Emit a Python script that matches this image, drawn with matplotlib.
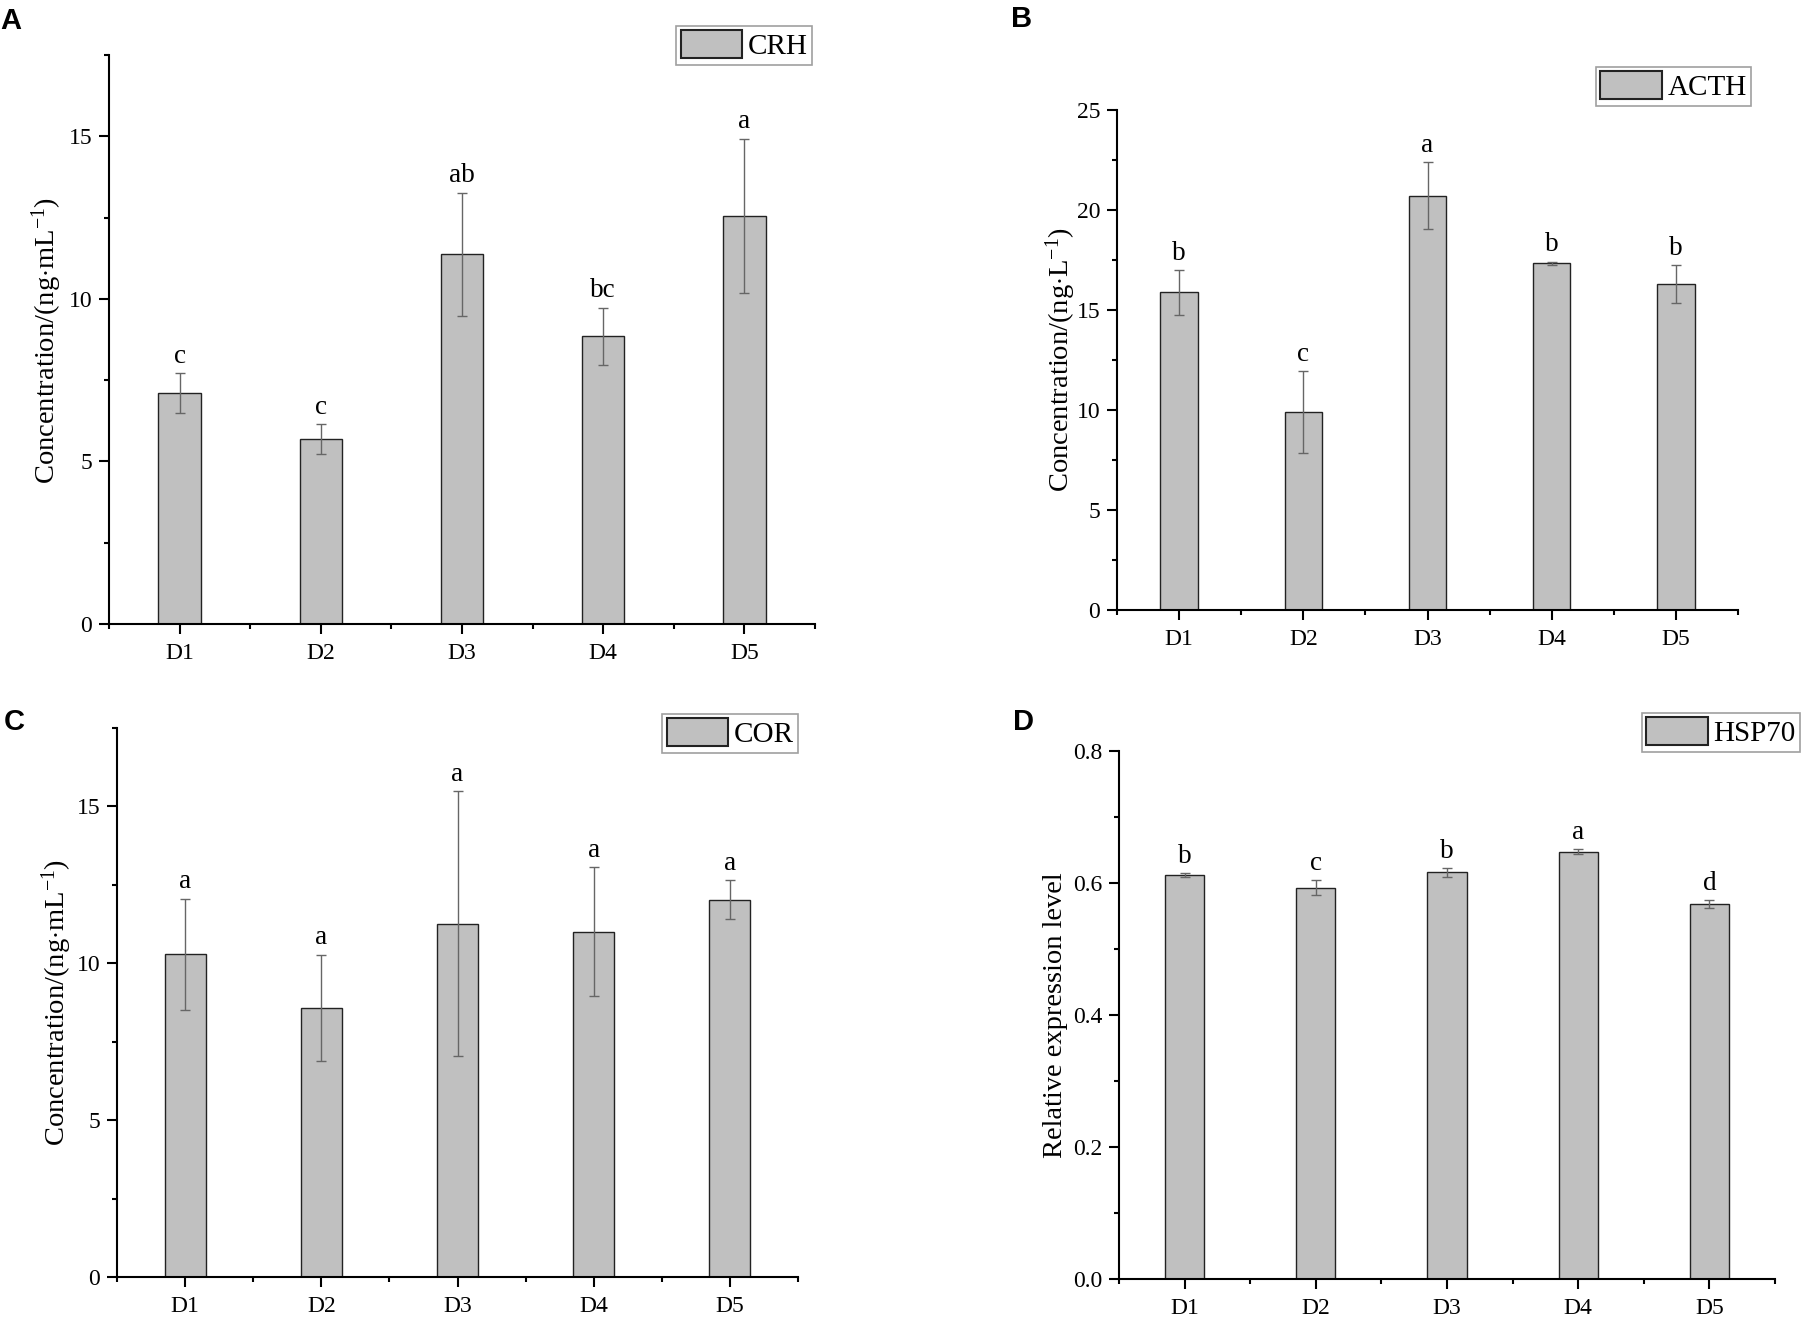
import matplotlib
matplotlib.use("Agg")
import matplotlib.pyplot as plt
from matplotlib.patches import Patch
from matplotlib.ticker import MultipleLocator, FixedLocator

plt.rcParams['font.family'] = ['Liberation Serif', 'DejaVu Serif']
plt.rcParams['mathtext.fontset'] = 'custom'
plt.rcParams['mathtext.rm'] = 'Liberation Serif'
plt.rcParams['mathtext.it'] = 'Liberation Serif:italic'

groups = ['D1', 'D2', 'D3', 'D4', 'D5']

crh = [7.11, 5.69, 11.37, 8.85, 12.56]
crh_sd = [0.61, 0.45, 1.90, 0.88, 2.37]
crh_sig = ['c', 'c', 'ab', 'bc', 'a']

acth = [15.88, 9.88, 20.71, 17.33, 16.31]
acth_sd = [1.12, 2.05, 1.68, 0.09, 0.94]
acth_sig = ['b', 'c', 'a', 'b', 'b']

cor = [10.29, 8.58, 11.26, 11.01, 12.03]
cor_sd = [1.77, 1.70, 4.23, 2.05, 0.63]
cor_sig = ['a', 'a', 'a', 'a', 'a']

hsp70 = [0.612, 0.593, 0.616, 0.6475, 0.5675]
hsp70_sd = [0.003, 0.011, 0.007, 0.004, 0.006]
hsp70_sig = ['b', 'c', 'b', 'a', 'd']

W, H = 1801, 1317
fig = plt.figure(figsize=(W / 100, H / 100), dpi=100)


def px_axes(l, r, t, b):
    return fig.add_axes([l / W, 1 - b / H, (r - l) / W, (b - t) / H])


def panel(ax, vals, sd, sig, name, ymax, major, minor, fmt, leg_r, leg_t):
    x = list(range(1, len(vals) + 1))
    ax.bar(x, vals, width=0.3, color='#c0c0c0', edgecolor='#222222', linewidth=1.0, zorder=2)
    ax.errorbar(x, vals, yerr=sd, fmt='none', ecolor='#666666', elinewidth=1.0,
                capsize=3.8, capthick=1.0, zorder=3)
    for xi, v, s, t in zip(x, vals, sd, sig):
        ax.annotate(t, (xi, v + s), xytext=(0, 3), textcoords='offset points',
                    ha='center', va='bottom', fontsize=19.5)
    ax.set_xlim(0.5, 5.5)
    ax.set_ylim(0, ymax)
    ax.set_xticks(x)
    ax.set_xticklabels(groups)
    ax.xaxis.set_minor_locator(FixedLocator([0.5, 1.5, 2.5, 3.5, 4.5, 5.5]))
    ax.yaxis.set_major_locator(MultipleLocator(major))
    ax.yaxis.set_minor_locator(MultipleLocator(minor))
    ax.yaxis.set_major_formatter(fmt)
    for s in ['top', 'right']:
        ax.spines[s].set_visible(False)
    for s in ['left', 'bottom']:
        ax.spines[s].set_linewidth(1.5)
    ax.tick_params(which='major', direction='out', length=7, width=1.5, labelsize=17)
    ax.tick_params(which='minor', direction='out', length=3.6, width=1.5)
    ax.tick_params(axis='x', which='major', pad=7)
    ax.tick_params(axis='y', which='major', pad=5)
    handle = Patch(facecolor='#c0c0c0', edgecolor='#222222', linewidth=1.5)
    leg = ax.legend([handle], [name], loc='upper right',
                    bbox_to_anchor=(leg_r / W, 1 - leg_t / H), bbox_transform=fig.transFigure,
                    fontsize=21, frameon=True, fancybox=False, borderpad=0.15,
                    handlelength=2.1, handleheight=1.1, handletextpad=0.2,
                    borderaxespad=0)
    leg.get_frame().set_edgecolor('#888888')
    leg.get_frame().set_linewidth(1.2)


axA = px_axes(109, 815, 55, 624)
panel(axA, crh, crh_sd, crh_sig, 'CRH', 17.5, 5, 2.5, '{x:.0f}', 812, 26)
axB = px_axes(1117, 1738, 110, 610)
panel(axB, acth, acth_sd, acth_sig, 'ACTH', 25, 5, 2.5, '{x:.0f}', 1751, 67)
axC = px_axes(117, 798, 728, 1277)
panel(axC, cor, cor_sd, cor_sig, 'COR', 17.5, 5, 2.5, '{x:.0f}', 798, 714)
axD = px_axes(1119, 1775, 751, 1279)
panel(axD, hsp70, hsp70_sd, hsp70_sig, 'HSP70', 0.8, 0.2, 0.1, '{x:.1f}', 1800, 713)

ylab_ml = r'Concentration/(ng$\cdot$mL$^{-1}$)'
ylab_l = r'Concentration/(ng$\cdot$L$^{-1}$)'
fig.text(47 / W, 1 - 340 / H, ylab_ml, rotation=90, ha='center', va='center', fontsize=20.5)
fig.text(1061 / W, 1 - 360 / H, ylab_l, rotation=90, ha='center', va='center', fontsize=20.5)
fig.text(57 / W, 1 - 1002 / H, ylab_ml, rotation=90, ha='center', va='center', fontsize=20.5)
fig.text(1055 / W, 1 - 1015 / H, 'Relative expression level', rotation=90,
         ha='center', va='center', fontsize=20.5)

for lab, xp, yp in [('A', 0, 7), ('B', 1011, 5), ('C', 4, 708), ('D', 1013, 708)]:
    fig.text(xp / W, 1 - yp / H, lab, ha='left', va='top', fontsize=21,
             fontweight='bold', family='Liberation Sans')

fig.savefig('out.png', dpi=100)
